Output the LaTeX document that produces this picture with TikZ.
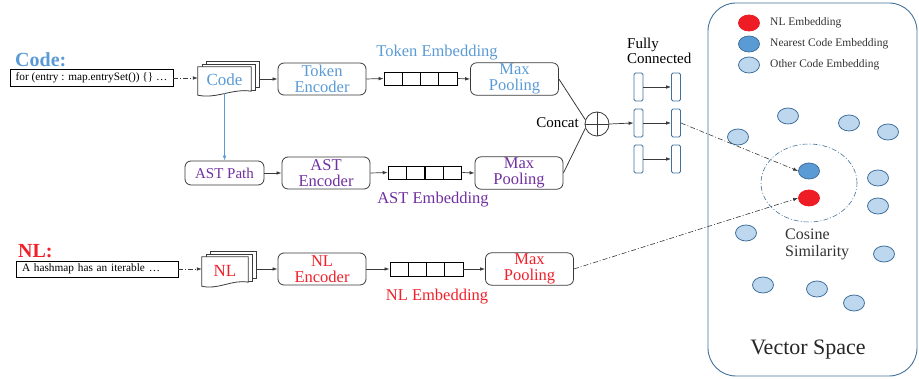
\documentclass[tikz,border=0pt]{standalone}
\usepackage{fontspec}
\setmainfont{LiberationSerif}[Extension=.ttf, UprightFont=*-Regular,
  BoldFont=*-Bold, ItalicFont=*-Italic, BoldItalicFont=*-BoldItalic]
\usetikzlibrary{arrows.meta,calc,shapes.geometric}

\definecolor{codeblue}{HTML}{5B9BD5}
\definecolor{astpurple}{HTML}{7030A0}
\definecolor{nlred}{HTML}{F0202A}
\definecolor{linegray}{HTML}{3A3A3A}
\definecolor{vsborder}{HTML}{41719C}
\definecolor{ptlight}{HTML}{BDD7EE}
\definecolor{ptnear}{HTML}{5B9BD5}
\definecolor{ptred}{HTML}{EE1C25}

\tikzset{
  box/.style={draw=linegray, line width=0.8pt, rounded corners=6pt,
    minimum width=88pt, minimum height=32pt, align=center, inner sep=1pt,
    font=\fontsize{16.5}{16}\selectfont},
  cell/.style={draw=black, line width=0.8pt, minimum width=18.25pt,
    minimum height=13pt, inner sep=0pt},
  arr/.style={-{Latex[length=5pt,width=3.6pt]}, draw=linegray, line width=0.7pt},
  dd/.style={draw=linegray, line width=0.6pt,
    dash pattern=on 5pt off 2pt on 1pt off 2pt},
  ddarr/.style={dd, -{Latex[length=5pt,width=3.6pt]}},
  inbox/.style={draw=black, line width=0.8pt, inner xsep=4pt, inner ysep=0pt,
    font=\fontsize{11.3}{12}\selectfont},
  sheet/.style={draw=linegray, line width=0.8pt, fill=white, inner sep=0pt},
  bar/.style={draw=vsborder, line width=0.9pt, rounded corners=1.5pt, fill=white,
    minimum width=9pt, minimum height=28pt, inner sep=0pt},
  pt/.style={ellipse, draw=vsborder, line width=0.8pt, fill=ptlight,
    minimum width=21pt, minimum height=16pt, inner sep=0pt},
  lbl/.style={font=\fontsize{16.5}{16}\selectfont, inner sep=0pt},
  legend/.style={anchor=west, text=black!80, inner sep=0pt,
    font=\fontsize{11.5}{12}\selectfont},
}

% stack of three document sheets; the front one has a wavy lower edge
\newcommand\docstack[6]{% name, centre x, centre y, width, height, text
  \node[sheet, minimum width=#4pt, minimum height=#5pt] (#1C) at (#2+8,#3-6) {};
  \node[sheet, minimum width=#4pt, minimum height=#5pt] (#1B) at (#2+4,#3-3) {};
  \node[inner sep=0pt, minimum width=#4pt, minimum height=#5pt] (#1) at (#2,#3) {};
  \draw[sheet] (#1.north west) -- (#1.north east) -- ($(#1.south east)+(0,-2)$)
    .. controls ($(#1.south west)!0.65!(#1.south east)+(0,-5)$)
           and ($(#1.south west)!0.35!(#1.south east)+(0,6)$)
    .. ($(#1.south west)+(0,2)$) -- cycle;
  \node[inner sep=0pt, font=\fontsize{17}{17}\selectfont] (#1t) at (#1.center) {#6};
}

\begin{document}
\begin{tikzpicture}[x=1pt, y=-1pt]
\useasboundingbox (0,0) rectangle (919,379);

% ---------------- code branch ----------------
\node[anchor=west, text=codeblue, inner sep=0pt,
  font=\bfseries\fontsize{20}{20}\selectfont] (codelbl) at (15,60) {Code:};
\node[inbox, minimum width=163pt, minimum height=17pt]
  (codebox) at (91.5,78) {for (entry : map.entrySet()) \{\} \dots};
\docstack{codedoc}{224.5}{80}{53}{26}{\textcolor{codeblue}{Code}}

\node[box, text=codeblue] (tenc) at (322,79) {Token\\Encoder};
\foreach \i in {1,...,4}
  \node[cell] (tc\i) at (384+9.125+18.25*\i-18.25,78.5) {};
\node[box, text=codeblue] (tmp) at (514.5,79) {Max\\Pooling};
\node[lbl, text=codeblue] (tembl) at (437,53) {Token Embedding};

\draw[ddarr] (codebox.east) -- (codebox.east -| codedoc.west);
\draw[arr] (codedocC.east |- tenc.west) -- (tenc.west);
\draw[arr] (tenc.east) -- (tc1.west);
\draw[arr] (tc4.east) -- (tmp.west);

% ---------------- AST branch ----------------
\node[box, text=astpurple, minimum width=79pt, minimum height=24pt,
  font=\fontsize{15}{15}\selectfont] (astpath) at (224.5,173) {AST Path};
\node[box, text=astpurple] (aenc) at (326,173) {AST\\Encoder};
\foreach \i in {1,...,4}
  \node[cell] (ac\i) at (388+9.25+18.5*\i-18.5,172.5) {};
\node[box, text=astpurple] (amp) at (519,173) {Max\\Pooling};
\node[lbl, text=astpurple] (aembl) at (433,200) {AST Embedding};

\draw[-{Latex[length=5pt,width=3.6pt]}, draw=codeblue, line width=0.8pt]
  (codedoc.south) -- (astpath.north);
\draw[arr] (astpath.east) -- (aenc.west);
\draw[arr] (aenc.east) -- (ac1.west);
\draw[arr] (ac4.east) -- (amp.west);

% ---------------- NL branch ----------------
\node[anchor=west, text=nlred, inner sep=0pt,
  font=\bfseries\fontsize{20}{20}\selectfont] (nllbl) at (18,251) {NL:};
\node[inbox, minimum width=162pt, minimum height=16pt, text width=150pt,
  align=left, inner xsep=6pt]
  (nlbox) at (97,269) {A hashmap has an iterable \dots};
\docstack{nldoc}{225}{270.5}{46}{27}{\textcolor{nlred}{NL}}

\node[box, text=nlred] (nenc) at (322,269) {NL\\Encoder};
\foreach \i in {1,...,4}
  \node[cell, minimum height=14pt] (nc\i) at (390+9.125+18.25*\i-18.25,269) {};
\node[box, text=nlred] (nmp) at (529.5,269) {Max\\Pooling};
\node[lbl, text=nlred] (nembl) at (437,297) {NL Embedding};

\draw[ddarr] (nlbox.east) -- (nlbox.east -| nldoc.west);
\draw[arr] (nldocC.east |- nenc.west) -- (nenc.west);
\draw[arr] (nenc.east) -- (nc1.west);
\draw[arr] (nc4.east) -- (nmp.west);

% ---------------- concat and fully connected ----------------
\node[circle, draw=linegray, line width=0.8pt, minimum size=24pt, inner sep=0pt]
  (concat) at (597,124) {};
\draw[linegray, line width=0.8pt] (concat.north) -- (concat.south)
  (concat.west) -- (concat.east);
\node[anchor=east, inner sep=0pt, font=\fontsize{15}{15}\selectfont]
  (concatl) at (579,123) {Concat};
\draw[linegray, line width=0.8pt] (tmp.east) -- (concat.160);
\draw[linegray, line width=0.8pt] (amp.east) -- (concat.200);

\node[anchor=west, align=left, inner sep=0pt,
  font=\fontsize{15}{15}\selectfont] (fcl) at (627,50.5) {Fully\\Connected};
\foreach \r/\y in {1/87,2/123,3/159} {
  \node[bar] (fc\r1) at (638.5,\y) {};
  \node[bar] (fc\r2) at (676,\y) {};
  \draw[arr] (fc\r1.east) -- (fc\r2.west);
}
\draw[arr] (concat.east) -- (fc21.west);

% ---------------- vector space ----------------
\node[draw=vsborder, line width=0.9pt, rounded corners=28pt,
  minimum width=209pt, minimum height=373pt] (vs) at (812.5,189.5) {};

\node[pt, fill=ptred, draw=ptred] (legred) at (749,23) {};
\node[pt, fill=ptnear] (legnear) at (749,44) {};
\node[pt] (legother) at (749,65) {};
\node[legend] (legredt) at (770,23) {NL Embedding};
\node[legend] (legneart) at (770,44) {Nearest Code Embedding};
\node[legend] (legothert) at (770,65) {Other Code Embedding};

\foreach \n/\x/\y in {a/788/116, b/849/123, c/888/132, d/738/137, e/878/178,
  f/878/206, g/746/233, h/884/254, i/763/285, j/817/289, k/854/303}
  \node[pt] (p\n) at (\x,\y) {};

\node[ellipse, dd, draw=vsborder, minimum width=96pt, minimum height=78pt]
  (simring) at (809,183) {};
\node[pt, fill=ptnear] (nearpt) at (809,171) {};
\node[pt, fill=ptred, draw=ptred] (nlpt) at (809,198) {};
\node[anchor=west, align=left, inner sep=0pt, text=black!80,
  font=\fontsize{16}{17}\selectfont] (cosl) at (785,244.5) {Cosine\\Similarity};
\node[inner sep=0pt, text=black!85, font=\fontsize{22}{22}\selectfont]
  (vsl) at (808,350) {Vector Space};

\draw[ddarr] (fc22.east) -- (nearpt.west);
\draw[ddarr] (nmp.east) -- (nlpt.west);
\end{tikzpicture}
\end{document}
